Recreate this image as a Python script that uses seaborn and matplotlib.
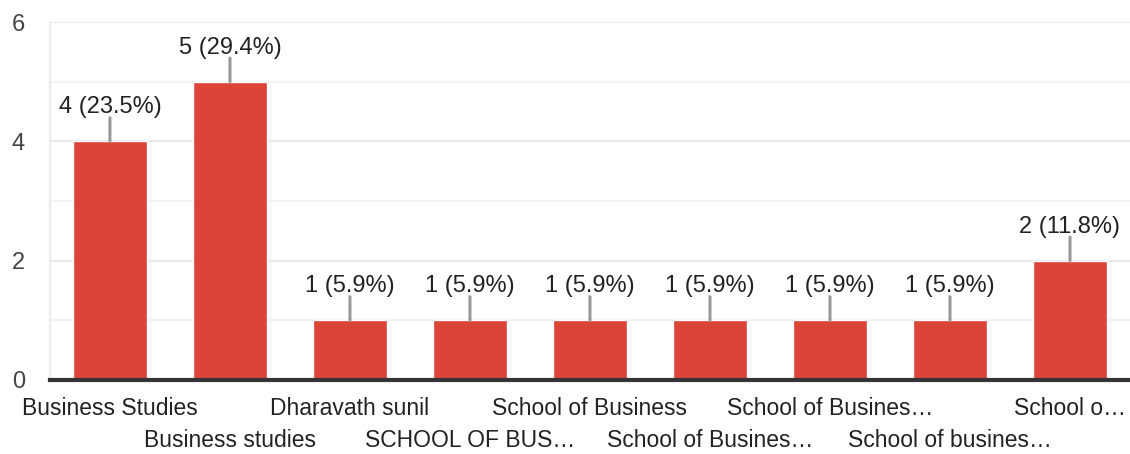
import matplotlib
matplotlib.use("Agg")
import matplotlib.pyplot as plt
import matplotlib.transforms as mtransforms
import seaborn as sns
import pandas as pd

categorias = ["Business Studies", "Business studies", "Dharavath sunil",
              "SCHOOL OF BUS…", "School of Business", "School of Busines…",
              "School of Busines…", "School of busines…", "School o…"]
contagens = [4, 5, 1, 1, 1, 1, 1, 1, 2]
porcentagens = ["23.5%", "29.4%", "5.9%", "5.9%", "5.9%", "5.9%", "5.9%", "5.9%", "11.8%"]

df = pd.DataFrame({"pos": range(len(categorias)), "n": contagens})

sns.set_style("white")
plt.rcParams["font.family"] = ["Liberation Sans", "DejaVu Sans"]

fig = plt.figure(figsize=(11.3, 4.54), dpi=100)
ax = fig.add_axes([0.0442, 0.163, 0.9558, 0.7885])

sns.barplot(data=df, x="pos", y="n", color="#db4437", saturation=1,
            width=0.62, ax=ax, zorder=3)

ax.set_xlim(-0.5, len(categorias) - 0.5)
ax.set_ylim(0, 6)
ax.set_yticks([0, 2, 4, 6])
ax.set_yticks([1, 3, 5], minor=True)
ax.grid(axis="y", which="major", color="#ebebeb", lw=1.5, zorder=0)
ax.grid(axis="y", which="minor", color="#f3f3f3", lw=1.5, zorder=0)
ax.tick_params(axis="y", which="both", length=0, labelsize=17, labelcolor="#444444", pad=18)
ax.set_xlabel("")
ax.set_ylabel("")

# rótulos do eixo x em duas linhas alternadas
ax.set_xticks(range(len(categorias)))
ax.set_xticklabels([])
ax.tick_params(axis="x", length=0)
trans = mtransforms.blended_transform_factory(ax.transData, ax.transAxes)
for i, c in enumerate(categorias):
    y = -0.08 if i % 2 == 0 else -0.17
    ax.text(i, y, c, transform=trans, ha="center", va="center",
            fontsize=16.5, color="#222222")

for s in ["top", "right"]:
    ax.spines[s].set_visible(False)
ax.spines["left"].set_color("#ebebeb")
ax.spines["left"].set_linewidth(1.5)
ax.spines["bottom"].set_color("#333333")
ax.spines["bottom"].set_linewidth(3)
ax.spines["bottom"].set_zorder(5)

# anotações com linha guia
for i, (n, p) in enumerate(zip(contagens, porcentagens)):
    ax.annotate("", xy=(i, n), xytext=(0, 17), textcoords="offset points",
                arrowprops=dict(arrowstyle="-", color="#999999", lw=2.2,
                                shrinkA=0, shrinkB=0), zorder=4)
    ax.annotate(f"{n} ({p})", xy=(i, n), xytext=(0, 16.5), textcoords="offset points",
                ha="center", va="bottom", fontsize=17, color="#222222")

plt.savefig("out.png", dpi=100)
plt.close()
